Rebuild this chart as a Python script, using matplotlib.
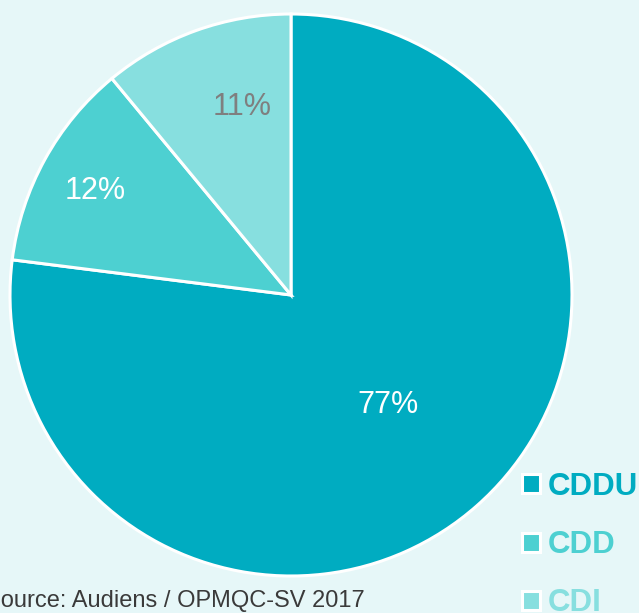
import numpy as np
import matplotlib.pyplot as plt

labels = ['CDDU', 'CDD', 'CDI']
shares = [77, 12, 11]
colors = ['#00ACC1', '#4DD0D1', '#87DFDF']
pct_colors = ['white', 'white', '#7F7F7F']
source = 'Source: Audiens / OPMQC-SV 2017'
bg = '#E6F7F8'
font = ['Liberation Sans', 'DejaVu Sans']

W, H = 639, 613
fig = plt.figure(figsize=(W / 100, H / 100), dpi=100, facecolor=bg)

# pie centre and radius in pixels
cx, cy, r = 291, 295, 281
ax = fig.add_axes([(cx - r) / W, (H - cy - r) / H, 2 * r / W, 2 * r / H])

wedges, texts, autotexts = ax.pie(
    shares, colors=colors, startangle=90, counterclock=False,
    autopct='%.0f%%',
    wedgeprops=dict(edgecolor='white', linewidth=2.2),
    textprops=dict(fontsize=22, family=font))
ax.set_xlim(-1, 1)
ax.set_ylim(-1, 1)

# label placement: radius and small angle nudge (deg)
label_r = [0.52, 0.79, 0.69]
label_dt = [0.0, 0.8, -5.2]
for w, t, c, rr, dt in zip(wedges, autotexts, pct_colors, label_r, label_dt):
    w.set_clip_on(False)
    a = np.deg2rad((w.theta1 + w.theta2) / 2 + dt)
    t.set_position((rr * np.cos(a), rr * np.sin(a)))
    t.set_color(c)

leg = fig.legend(wedges, labels, loc='upper left',
                 bbox_to_anchor=(522 / W, 1 - 472 / H),
                 frameon=False, labelcolor=colors,
                 prop=dict(family=font, weight='bold', size=22.5),
                 handlelength=0.56, handleheight=0.56, handletextpad=0.25,
                 labelspacing=0.9, borderpad=0, borderaxespad=0)

fig.text(365 / W, 1 - 607 / H, source, ha='right', va='baseline',
         fontsize=17, color='#3A3A3A', family=font)

plt.savefig('out.png', dpi=100, facecolor=bg)
